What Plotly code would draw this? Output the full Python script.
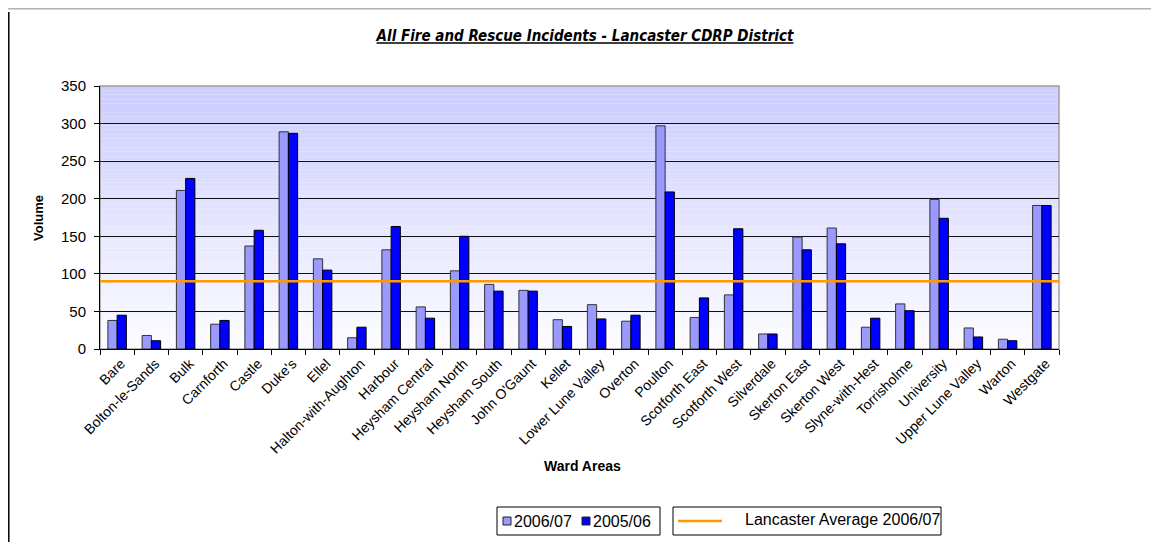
import plotly.graph_objects as go

wards = ["Bare", "Bolton-le-Sands", "Bulk", "Carnforth", "Castle", "Duke's", "Ellel",
         "Halton-with-Aughton", "Harbour", "Heysham Central", "Heysham North",
         "Heysham South", "John O'Gaunt", "Kellet", "Lower Lune Valley", "Overton",
         "Poulton", "Scotforth East", "Scotforth West", "Silverdale", "Skerton East",
         "Skerton West", "Slyne-with-Hest", "Torrisholme", "University",
         "Upper Lune Valley", "Warton", "Westgate"]
vol_2006_07 = [38, 18, 211, 33, 137, 289, 120, 15, 132, 56, 104, 86, 78, 39, 59, 37,
               297, 42, 72, 20, 149, 161, 29, 60, 199, 28, 13, 191]
vol_2005_06 = [45, 11, 227, 38, 158, 287, 105, 29, 163, 41, 150, 77, 77, 30, 40, 45,
               209, 68, 160, 20, 132, 140, 41, 51, 174, 16, 11, 191]
series_names = ["2006/07", "2005/06"]
avg_name = "Lancaster Average 2006/07"
lancaster_avg = 90
y_ticks = [0, 50, 100, 150, 200, 250, 300, 350]

LIGHT, DARK, ORANGE = "#9999FF", "#0000FF", "#FF9900"
FONT = "Liberation Sans, Arial, sans-serif"
OFF = 8  # page body margin: figure starts at (8, 8) on the page
W, H = 1159 - OFF, 542 - OFF
# plot area in page pixels: x 100..1059, y 86..349
ML, MT = 100 - OFF, 86 - OFF
MR = W - (1059 - OFF)
MB = H - (349 - OFF)
PW, PH = W - ML - MR, H - MT - MB


def px_x(p):  # page px -> paper
    return (p - OFF - ML) / PW


def px_y(p):
    return (H - MB - (p - OFF)) / PH


def cont_x(p):
    return (p - OFF) / W


def cont_y(p):
    return 1 - (p - OFF) / H


fig = go.Figure()
fig.add_trace(go.Bar(x=wards, y=vol_2006_07, name=series_names[0], showlegend=False,
                     marker=dict(color=LIGHT, line=dict(color="#333333", width=1))))
fig.add_trace(go.Bar(x=wards, y=vol_2005_06, name=series_names[1], showlegend=False,
                     marker=dict(color=DARK, line=dict(color="#000000", width=1))))

shapes = []
# gradient background of plot area
n = 60
top = (204, 204, 255)
bot = (252, 252, 255)
for i in range(n):
    t = i / (n - 1)
    c = tuple(round(bot[k] + (top[k] - bot[k]) * t) for k in range(3))
    shapes.append(dict(type="rect", xref="x domain", yref="y domain",
                       x0=0, x1=1, y0=i / n, y1=(i + 1) / n,
                       fillcolor="rgb(%d,%d,%d)" % c, line=dict(width=0), layer="below"))
# plot frame (top/right grey)
shapes.append(dict(type="rect", xref="x domain", yref="y domain", x0=0, x1=1, y0=0, y1=1,
                   line=dict(color="#A0A0A0", width=1.5), layer="below"))
# average line
shapes.append(dict(type="line", xref="x domain", yref="y", x0=0, x1=1,
                   y0=lancaster_avg, y1=lancaster_avg,
                   line=dict(color=ORANGE, width=2.5), name=avg_name))
# outer chart frame (cropped)
shapes.append(dict(type="line", xref="paper", yref="paper",
                   x0=px_x(OFF), x1=px_x(1159), y0=px_y(OFF + 0.8), y1=px_y(OFF + 0.8),
                   line=dict(color="#B0B0B0", width=1.5)))
shapes.append(dict(type="line", xref="paper", yref="paper",
                   x0=px_x(OFF + 0.8), x1=px_x(OFF + 0.8), y0=px_y(12), y1=px_y(542),
                   line=dict(color="#000000", width=1.5)))

annotations = []
# legend boxes (drawn like the original)
LY0, LY1 = 507, 535
ycen = (LY0 + LY1) / 2
for bx0, bx1 in [(497, 660), (673, 941)]:
    shapes.append(dict(type="rect", xref="paper", yref="paper",
                       x0=px_x(bx0), x1=px_x(bx1), y0=px_y(LY1), y1=px_y(LY0),
                       line=dict(color="black", width=1), fillcolor="white"))
for sx, col, lab in [(503, LIGHT, series_names[0]), (582, DARK, series_names[1])]:
    shapes.append(dict(type="rect", xref="paper", yref="paper",
                       x0=px_x(sx), x1=px_x(sx + 8), y0=px_y(ycen + 4), y1=px_y(ycen - 4),
                       line=dict(color="#222222", width=1), fillcolor=col))
    annotations.append(dict(text=lab, xref="paper", yref="paper", x=px_x(sx + 9),
                            y=px_y(ycen), xanchor="left", yanchor="middle",
                            showarrow=False, font=dict(size=16)))
shapes.append(dict(type="line", xref="paper", yref="paper",
                   x0=px_x(678), x1=px_x(722), y0=px_y(ycen), y1=px_y(ycen),
                   line=dict(color=ORANGE, width=2.5)))
annotations.append(dict(text=avg_name, xref="paper", yref="paper", x=px_x(743),
                        y=px_y(ycen - 2), xanchor="left", yanchor="middle",
                        showarrow=False, font=dict(size=16)))

annotations += [
    dict(text="<b>Volume</b>", xref="paper", yref="paper", x=px_x(38), y=px_y(218),
         textangle=-90, showarrow=False, xanchor="center", yanchor="middle",
         font=dict(size=13)),
    dict(text="<b>Ward Areas</b>", xref="paper", yref="paper", x=px_x(582), y=px_y(466),
         showarrow=False, xanchor="center", yanchor="middle", font=dict(size=14)),
]

fig.update_layout(
    width=W, height=H,
    margin=dict(l=ML, r=MR, t=MT, b=MB, autoexpand=False),
    paper_bgcolor="white", plot_bgcolor="rgba(0,0,0,0)",
    font=dict(family=FONT, size=14, color="black"),
    barmode="group", bargap=0.46, bargroupgap=0.0,
    shapes=shapes,
    showlegend=False,
    title=dict(text="<u><i><b>All Fire and Rescue Incidents - Lancaster CDRP District</b></i></u>",
               x=cont_x(585), xref="container", xanchor="center",
               y=cont_y(36), yref="container", yanchor="middle",
               font=dict(family="Liberation Sans Narrow, Arial Narrow, DejaVu Sans Condensed, sans-serif",
                         size=15, color="black")),
    xaxis=dict(type="category", tickangle=-45, tickson="boundaries", ticks="outside",
               ticklen=5, tickcolor="black", showline=True, linecolor="black", linewidth=1,
               showgrid=False, tickfont=dict(size=14), automargin=False,
               ticklabelshift=4),
    yaxis=dict(range=[0, 350], tickvals=y_ticks, ticks="outside", ticklen=5,
               tickcolor="black", showline=True, linecolor="black", linewidth=1,
               showgrid=True, gridcolor="#111111", gridwidth=1, zeroline=False,
               tickfont=dict(size=15), layer="below traces", automargin=False,
               ticklabelstandoff=5),
    annotations=annotations,
)

fig.write_html("out.html")
